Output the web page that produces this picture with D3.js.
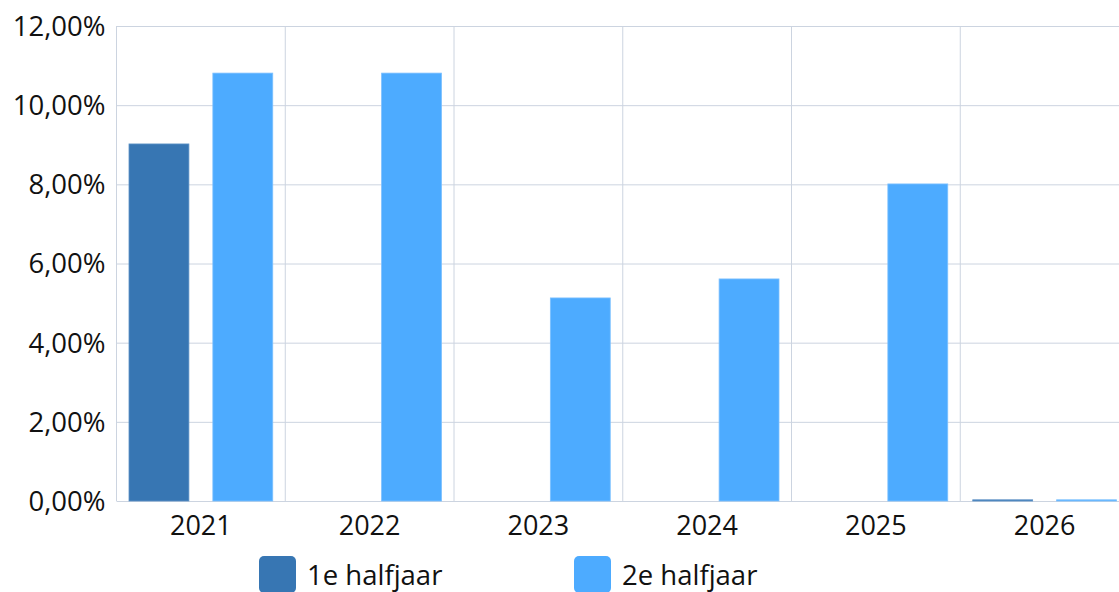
<!DOCTYPE html>
<html>
<head>
<meta charset="utf-8">
<script src="https://cdn.jsdelivr.net/npm/d3@7"></script>
<style>
  body { margin: 0; background: #fff; }
  text { font-family: "Open Sans", "Noto Sans", sans-serif; fill: #111; }
</style>
</head>
<body>
<div id="chart"></div>
<script>
// data
var years = ["2021", "2022", "2023", "2024", "2025", "2026"];
var series = ["1e halfjaar", "2e halfjaar"];
var firstHalf = [9.02, 0, 0, 0, 0, 0.03];
var secondHalf = [10.81, 10.81, 5.13, 5.61, 8.01, 0.03];
var yTicks = [0, 2, 4, 6, 8, 10, 12];
var colors = ["#3776b3", "#4dabff"];

var W = 1119, H = 592;
var margin = { top: 26, right: -10, bottom: 91, left: 116.5 },
  width = W - margin.left - margin.right,
  height = H - margin.top - margin.bottom;

var svg = d3.select("#chart").append("svg")
  .attr("width", W).attr("height", H);

var g = svg.append("g")
  .attr("transform", "translate(" + margin.left + "," + margin.top + ")");

var x = d3.scaleBand().domain(years).range([0, width]);
// bars sit 12.5px in from each band edge, 24px apart
var x1 = d3.scaleBand().domain(series)
  .range([12.5, x.bandwidth() - 12.5])
  .paddingInner(0.2857);
var y = d3.scaleLinear().domain([0, 12]).range([height, 0]);

// horizontal grid
g.append("g").selectAll("line").data(yTicks).enter().append("line")
  .attr("x1", 0).attr("x2", width)
  .attr("y1", d => y(d) + 0.5).attr("y2", d => y(d) + 0.5)
  .attr("stroke", "#ccd4e0").attr("stroke-width", 1);

// vertical grid
g.append("g").selectAll("line").data(years).enter().append("line")
  .attr("x1", d => x(d)).attr("x2", d => x(d))
  .attr("y1", 0).attr("y2", height)
  .attr("stroke", "#ccd4e0").attr("stroke-width", 1);

// bars
var rows = years.map((yr, i) => ({ year: yr, vals: [firstHalf[i], secondHalf[i]] }));
var groups = g.selectAll(".grp").data(rows).enter().append("g")
  .attr("transform", d => "translate(" + x(d.year) + ",0)");
groups.selectAll("rect")
  .data(d => d.vals.map((v, k) => ({ key: series[k], v: v, k: k })))
  .enter().append("rect")
  .filter(d => d.v > 0)
  .attr("x", d => x1(d.key))
  .attr("width", x1.bandwidth())
  .attr("y", d => y(d.v))
  .attr("height", d => Math.max(1, height - y(d.v)))
  .attr("fill", d => colors[d.k])
  .attr("stroke", d => d.k === 0 ? "#5d92c6" : "#7cc0ff")
  .attr("stroke-width", 0.8);

// y axis labels
g.append("g").selectAll("text").data(yTicks).enter().append("text")
  .attr("x", -11)
  .attr("y", d => y(d))
  .attr("dy", "0.36em")
  .attr("text-anchor", "end")
  .style("font-size", "27.5px")
  .text(d => d3.format(".2f")(d).replace(".", ",") + "%");

// x axis labels
g.append("g").selectAll("text").data(years).enter().append("text")
  .attr("x", d => x(d) + x.bandwidth() / 2)
  .attr("y", height + 34)
  .attr("text-anchor", "middle")
  .style("font-size", "27px")
  .text(d => d);

// legend
var legendX = [259, 574];
var leg = svg.append("g").selectAll("g").data(series).enter().append("g")
  .attr("transform", (d, i) => "translate(" + legendX[i] + ",556)");
leg.append("rect")
  .attr("width", 37).attr("height", 37).attr("rx", 5)
  .attr("fill", (d, i) => colors[i]);
leg.append("text")
  .attr("x", 48).attr("y", 29)
  .style("font-size", "27.5px")
  .text(d => d);
</script>
</body>
</html>
